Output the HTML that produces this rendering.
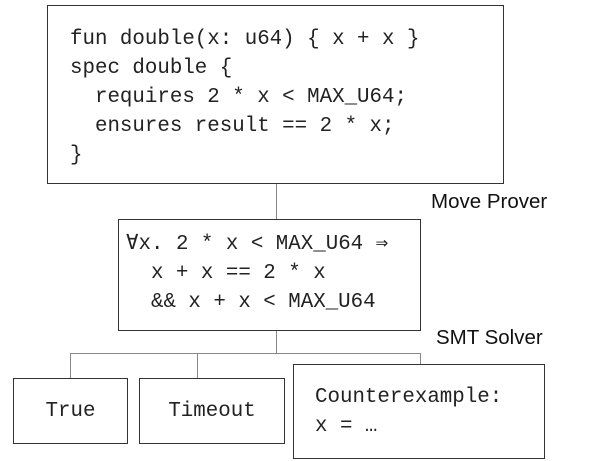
<!DOCTYPE html>
<html><head><style>
body{margin:0;width:600px;height:461px;background:#fff;position:relative;overflow:hidden;font-family:"Liberation Mono",monospace;color:#222}
.b{position:absolute;border:1.5px solid #333;box-sizing:border-box}
.t{position:absolute;white-space:pre;font-size:20.8px;line-height:29px}
.l{position:absolute;background:#888}
.s{position:absolute;font-family:"Liberation Sans",sans-serif;font-size:20.5px;color:#111}
</style></head><body>
<div class="b" style="left:47px;top:5px;width:457px;height:179px"></div>
<div class="t" style="left:70px;top:25px">fun double(x: u64) { x + x }
spec double {
  requires 2 * x &lt; MAX_U64;
  ensures result == 2 * x;
}</div>
<div class="l" style="left:276px;top:184px;width:1px;height:35px"></div>
<div class="s" style="left:431px;top:190px">Move Prover</div>
<div class="b" style="left:118px;top:219px;width:303px;height:112px"></div>
<div class="t" style="left:126px;top:230px">∀x. 2 * x &lt; MAX_U64 ⇒
  x + x == 2 * x
  &amp;&amp; x + x &lt; MAX_U64</div>
<div class="s" style="left:436px;top:326px">SMT Solver</div>
<div class="l" style="left:276px;top:331px;width:1px;height:22px"></div>
<div class="l" style="left:70px;top:353px;width:351px;height:1px"></div>
<div class="l" style="left:70px;top:353px;width:1px;height:25px"></div>
<div class="l" style="left:197px;top:353px;width:1px;height:25px"></div>
<div class="l" style="left:420px;top:353px;width:1px;height:11px"></div>
<div class="b" style="left:13px;top:378px;width:115px;height:66px"></div>
<div class="t" style="left:13px;top:397px;width:115px;text-align:center">True</div>
<div class="b" style="left:139px;top:378px;width:146px;height:66px"></div>
<div class="t" style="left:139px;top:397px;width:146px;text-align:center">Timeout</div>
<div class="b" style="left:293px;top:364px;width:252px;height:95px"></div>
<div class="t" style="left:315px;top:383px">Counterexample:
x = …</div>
</body></html>
